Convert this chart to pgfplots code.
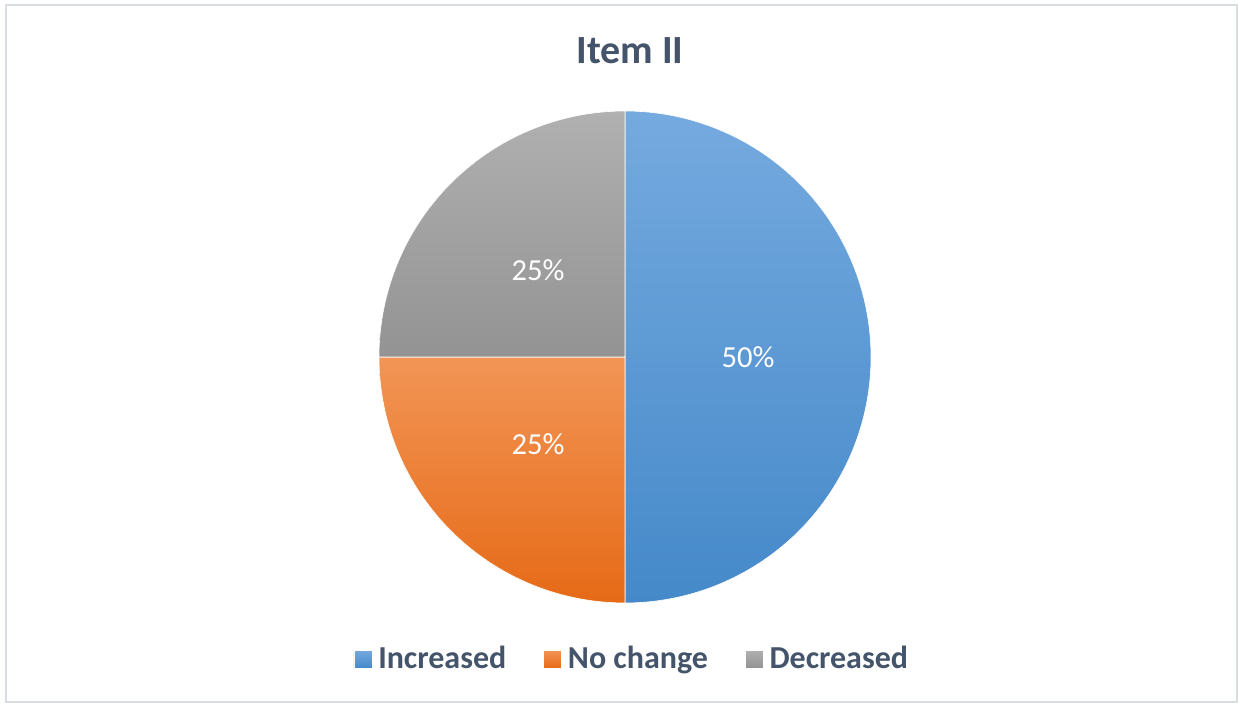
\documentclass[border=0pt]{standalone}
\usepackage{fontspec}
\setmainfont{Carlito}
\usepackage{pgfplots}
\pgfplotsset{compat=1.18}

\definecolor{titlegray}{HTML}{44546A}
\definecolor{framegray}{HTML}{D9DCE1}
\definecolor{incTop}{HTML}{75AADF}
\definecolor{incBot}{HTML}{4589C9}
\definecolor{nocTop}{HTML}{F29556}
\definecolor{nocBot}{HTML}{E66A17}
\definecolor{decTop}{HTML}{B0B0B0}
\definecolor{decBot}{HTML}{939393}

% shares in percent
\def\vInc{50}
\def\vNoc{25}
\def\vDec{25}

\begin{document}
\begin{tikzpicture}
\path[use as bounding box] (0,0) rectangle (619.5pt,352pt);
\draw[framegray, line width=0.6pt] (3pt,1pt) rectangle (618.5pt,349.5pt);

% slice angles, clockwise from 12 o'clock
\pgfmathsetmacro{\aA}{90}
\pgfmathsetmacro{\aB}{\aA-3.6*\vInc}
\pgfmathsetmacro{\aC}{\aB-3.6*\vNoc}
\pgfmathsetmacro{\aD}{\aC-3.6*\vDec}
\pgfmathsetmacro{\mA}{(\aA+\aB)/2}
\pgfmathsetmacro{\mB}{(\aB+\aC)/2}
\pgfmathsetmacro{\mC}{(\aC+\aD)/2}

\begin{axis}[
  at={(312.5pt,173.5pt)}, anchor=center,
  width=246pt, height=246pt, scale only axis,
  xmin=-1, xmax=1, ymin=-1, ymax=1,
  hide axis, clip=false,
  legend columns=3,
  legend style={draw=none, fill=none, at={(0.512,-0.114)}, anchor=center,
    font=\fontsize{16}{18}\bfseries\selectfont, text=titlegray,
    nodes={inner sep=0pt},
    /tikz/every odd column/.append style={column sep=3pt},
    /tikz/every even column/.append style={column sep=18.5pt}},
  legend cell align=left,
  legend image code/.code={\fill[#1] (0pt,-4.5pt) rectangle (9pt,4.5pt);},
]
\addplot[draw=white, line width=0.3pt, top color=incTop, bottom color=incBot,
  domain=\aB:\aA, samples=181] ({cos(x)},{sin(x)}) -- (0,0) -- cycle;
\addplot[draw=white, line width=0.3pt, top color=nocTop, bottom color=nocBot,
  domain=\aC:\aB, samples=91] ({cos(x)},{sin(x)}) -- (0,0) -- cycle;
\addplot[draw=white, line width=0.3pt, top color=decTop, bottom color=decBot,
  domain=\aD:\aC, samples=91] ({cos(x)},{sin(x)}) -- (0,0) -- cycle;

\addlegendimage{top color=incTop, bottom color=incBot}
\addlegendentry{Increased}
\addlegendimage{top color=nocTop, bottom color=nocBot}
\addlegendentry{No change}
\addlegendimage{top color=decTop, bottom color=decBot}
\addlegendentry{Decreased}

\node[text=white, font=\fontsize{15.3}{18}\selectfont] at ({0.5*cos(\mA)},{0.5*sin(\mA)}) {\vInc\%};
\node[text=white, font=\fontsize{15.3}{18}\selectfont] at ({0.5*cos(\mB)},{0.5*sin(\mB)}) {\vNoc\%};
\node[text=white, font=\fontsize{15.3}{18}\selectfont] at ({0.5*cos(\mC)},{0.5*sin(\mC)}) {\vDec\%};
\end{axis}

\node[anchor=base, text=titlegray, font=\fontsize{20}{24}\bfseries\selectfont] at (315pt,320pt) {Item II};
\end{tikzpicture}
\end{document}
